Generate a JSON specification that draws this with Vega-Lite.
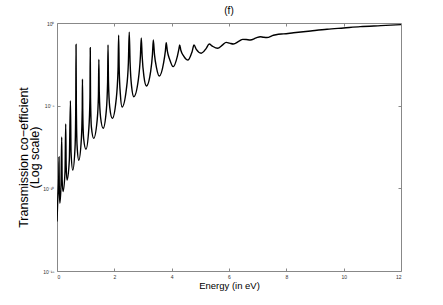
{
  "$schema": "https://vega.github.io/schema/vega-lite/v6.json",
  "autosize": "none",
  "width": 344,
  "height": 248,
  "padding": {"left": 57, "top": 23, "right": 42, "bottom": 34},
  "config": {
    "font": "Liberation Sans",
    "view": {"stroke": "#888888", "strokeWidth": 1},
    "axis": {"grid": false, "domain": false, "tickColor": "#888888", "labelColor": "#333333", "labelFontSize": 5, "titleFontWeight": "normal", "titleColor": "#000000"}
  },
  "title": {"text": "(f)", "fontSize": 10, "fontWeight": "normal", "offset": 5, "font": "Liberation Sans"},
  "data": {"values": [
    {"E": 0.0, "T": 1e-12}, {"E": 0.03, "T": 3.16e-11}, {"E": 0.06, "T": 5.01e-10}, {"E": 0.07, "T": 7.94e-9}, {"E": 0.08, "T": 1e-10}, {"E": 0.10, "T": 1.26e-11},
    {"E": 0.14, "T": 1.58e-10}, {"E": 0.164, "T": 1.26e-7}, {"E": 0.18, "T": 3.16e-10}, {"E": 0.21, "T": 6.31e-11},
    {"E": 0.28, "T": 1e-9}, {"E": 0.304, "T": 7.94e-7}, {"E": 0.32, "T": 2.51e-9}, {"E": 0.35, "T": 3.16e-10},
    {"E": 0.43, "T": 5.01e-9}, {"E": 0.469, "T": 2.0e-5}, {"E": 0.49, "T": 1.58e-8}, {"E": 0.55, "T": 1.26e-9},
    {"E": 0.63, "T": 3.16e-8}, {"E": 0.655, "T": 1e-5}, {"E": 0.664, "T": 0.0501}, {"E": 0.675, "T": 1e-5}, {"E": 0.70, "T": 3.98e-8}, {"E": 0.76, "T": 5.01e-9},
    {"E": 0.85, "T": 1e-7}, {"E": 0.88, "T": 5.01e-6}, {"E": 0.888, "T": 3.98e-4}, {"E": 0.90, "T": 3.16e-6}, {"E": 0.93, "T": 1e-7}, {"E": 1.01, "T": 2.29e-8},
    {"E": 1.11, "T": 3.98e-7}, {"E": 1.15, "T": 3.16e-5}, {"E": 1.16, "T": 0.0316}, {"E": 1.17, "T": 3.16e-5}, {"E": 1.20, "T": 5.01e-7}, {"E": 1.28, "T": 1.05e-7},
    {"E": 1.40, "T": 1.26e-6}, {"E": 1.445, "T": 3.98e-5}, {"E": 1.46, "T": 6.31e-3}, {"E": 1.475, "T": 6.31e-5}, {"E": 1.52, "T": 2.0e-6}, {"E": 1.61, "T": 4.27e-7},
    {"E": 1.72, "T": 5.01e-6}, {"E": 1.765, "T": 2.51e-4}, {"E": 1.78, "T": 0.0468}, {"E": 1.795, "T": 3.16e-4}, {"E": 1.84, "T": 7.94e-6}, {"E": 1.93, "T": 1.70e-6},
    {"E": 2.06, "T": 2.0e-5}, {"E": 2.13, "T": 1.58e-3}, {"E": 2.15, "T": 0.186}, {"E": 2.17, "T": 1.58e-3}, {"E": 2.21, "T": 5.01e-5}, {"E": 2.27, "T": 8.32e-6},
    {"E": 2.42, "T": 1e-4}, {"E": 2.49, "T": 3.98e-3}, {"E": 2.52, "T": 0.275}, {"E": 2.55, "T": 3.98e-3}, {"E": 2.60, "T": 1.58e-4}, {"E": 2.68, "T": 3.47e-5},
    {"E": 2.84, "T": 3.98e-4}, {"E": 2.91, "T": 0.01}, {"E": 2.94, "T": 0.123}, {"E": 2.97, "T": 0.01}, {"E": 3.03, "T": 6.31e-4}, {"E": 3.12, "T": 1.55e-4},
    {"E": 3.27, "T": 1.26e-3}, {"E": 3.33, "T": 0.0126}, {"E": 3.36, "T": 0.0933}, {"E": 3.40, "T": 0.0126}, {"E": 3.47, "T": 2.0e-3}, {"E": 3.57, "T": 6.17e-4},
    {"E": 3.72, "T": 3.98e-3}, {"E": 3.78, "T": 0.02}, {"E": 3.81, "T": 0.0646}, {"E": 3.85, "T": 0.02}, {"E": 3.93, "T": 6.31e-3}, {"E": 4.05, "T": 2.29e-3},
    {"E": 4.20, "T": 0.01}, {"E": 4.25, "T": 0.0251}, {"E": 4.28, "T": 0.0468}, {"E": 4.32, "T": 0.0224}, {"E": 4.42, "T": 0.01}, {"E": 4.57, "T": 5.75e-3},
    {"E": 4.71, "T": 0.0178}, {"E": 4.78, "T": 0.0468}, {"E": 4.86, "T": 0.0251}, {"E": 5.03, "T": 0.0148},
    {"E": 5.20, "T": 0.0282}, {"E": 5.31, "T": 0.0537}, {"E": 5.42, "T": 0.0398}, {"E": 5.60, "T": 0.0295},
    {"E": 5.78, "T": 0.0479}, {"E": 5.90, "T": 0.0676}, {"E": 6.02, "T": 0.0603}, {"E": 6.15, "T": 0.0537},
    {"E": 6.35, "T": 0.0794}, {"E": 6.48, "T": 0.102}, {"E": 6.60, "T": 0.1}, {"E": 6.74, "T": 0.0933},
    {"E": 6.95, "T": 0.126}, {"E": 7.09, "T": 0.148}, {"E": 7.20, "T": 0.138}, {"E": 7.32, "T": 0.132},
    {"E": 7.55, "T": 0.182}, {"E": 7.72, "T": 0.209}, {"E": 7.90, "T": 0.219}, {"E": 8.25, "T": 0.257},
    {"E": 8.85, "T": 0.331}, {"E": 9.42, "T": 0.417}, {"E": 10.0, "T": 0.501}, {"E": 10.58, "T": 0.603},
    {"E": 11.3, "T": 0.692}, {"E": 12.0, "T": 0.794}
  ]},
  "layer": [
    {
      "mark": {"type": "line", "color": "#000000", "strokeWidth": 1.4, "interpolate": "monotone", "clip": true},
      "encoding": {
        "x": {"field": "E", "type": "quantitative", "scale": {"domain": [0, 12], "nice": false},
          "axis": {"orient": "bottom", "values": [0, 2, 4, 6, 8, 10, 12], "tickSize": -3, "labelPadding": 6, "title": "Energy (in eV)", "titleFontSize": 9.5, "titlePadding": 1}},
        "y": {"field": "T", "type": "quantitative", "scale": {"type": "log", "domain": [1e-15, 1], "nice": false},
          "axis": {"orient": "left", "values": [1, 1e-5, 1e-10, 1e-15], "tickSize": -3, "labelPadding": 6,
            "labelExpr": "datum.value > 0.1 ? '10⁰' : datum.value > 1e-6 ? '10⁻⁵' : datum.value > 1e-11 ? '10⁻¹⁰' : '10⁻¹⁵'",
            "title": ["Transmission co−efficient", "(Log scale)"], "titleFontSize": 12.5, "titleLineHeight": 11.5, "titlePadding": 1, "titleY": 134}}
      }
    },
    {
      "mark": {"type": "line", "opacity": 0},
      "encoding": {
        "x": {"field": "E", "type": "quantitative", "scale": {"domain": [0, 12], "nice": false},
          "axis": {"orient": "top", "values": [2, 4, 6, 8, 10], "tickSize": -3, "labels": false, "title": null}},
        "y": {"field": "T", "type": "quantitative", "scale": {"type": "log", "domain": [1e-15, 1], "nice": false},
          "axis": {"orient": "right", "values": [1e-5, 1e-10], "tickSize": -3, "labels": false, "title": null}}
      }
    }
  ],
  "resolve": {"axis": {"x": "independent", "y": "independent"}}
}
